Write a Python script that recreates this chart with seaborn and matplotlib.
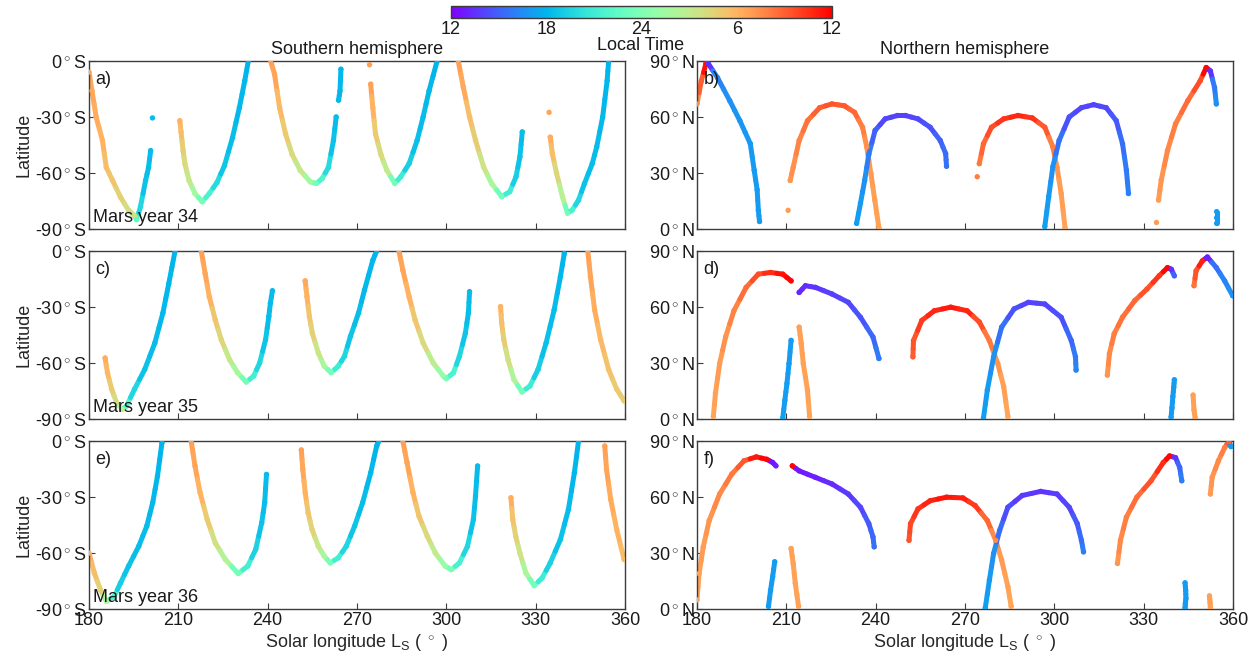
import numpy as np
import pandas as pd
import matplotlib
matplotlib.use("Agg")
import matplotlib.pyplot as plt
from matplotlib.collections import LineCollection
import seaborn as sns

sns.set_theme(style="white")
plt.rcParams["font.family"] = ["Liberation Sans", "DejaVu Sans"]
plt.rcParams["mathtext.fontset"] = "custom"
plt.rcParams["mathtext.rm"] = "Liberation Sans"
plt.rcParams["mathtext.it"] = "Liberation Sans:italic"
plt.rcParams["mathtext.bf"] = "Liberation Sans:bold"

# ---------------------------------------------------------------------------
# Occultation tracks: solar longitude (deg), latitude (deg), local time (h).
# Each inner list is one continuous track of observations.
# ---------------------------------------------------------------------------

# (a) Southern hemisphere, Mars year 34
ls_a = [
    [180, 181, 182.4, 184.5, 185.8, 187.9, 190.6, 193.3, 195.3, 196, 197.3, 199, 200, 200.7],
    [201.3],
    [210.5, 210.9, 211.6, 212.2, 213.6, 215.6, 218, 220.4, 223, 225.5, 228.2, 230.5, 232.3, 233.5],
    [241, 242.3, 244, 246, 248.2, 250.9, 254.3, 256.3, 258.3, 260.4, 262.1, 263],
    [263.8, 264.3, 264.6],
    [274.2],
    [274.6, 275.3, 276.2, 278, 280, 282.7, 284.7, 287.5, 290.2, 292.2, 294.2, 296.9],
    [304, 305.7, 307.8, 309.8, 312.5, 315.2, 318.6, 321.3, 323.4, 324.7, 325.5],
    [334.5],
    [334.9, 335.6, 337, 339, 340.7, 342.3, 344.4, 346.4, 349, 350.5, 352.5, 354, 354.5],
]
lat_a = [
    [-6, -16, -30, -42.5, -57, -64, -73, -80, -83, -85, -78, -64, -57, -48],
    [-30.5],
    [-32, -38, -48, -55, -64, -71, -75.4, -71, -65, -56, -41, -25, -10.6, 0],
    [0, -7, -25, -39, -50, -58.5, -64.7, -65.6, -63, -57, -42.5, -30],
    [-21, -16, -4.4],
    [-2],
    [-12.4, -25, -39, -50, -58.5, -65.6, -62, -55, -42.5, -30, -16, 0],
    [0, -14, -30, -42.5, -56.7, -65.6, -72.7, -70, -62, -51.4, -38],
    [-27.5],
    [-40.8, -49.6, -60, -72.7, -81.6, -79.8, -74.5, -65.6, -55, -46, -30, -10.6, 0],
]
lt_a = [
    [6.6, 6.5, 6.3, 6.0, 5.6, 5.2, 4.6, 4.0, 3.5, 22.5, 19.5, 18.6, 18.4, 18.3],
    [18.3],
    [6.0, 5.6, 4.8, 4.2, 3.2, 1.6, 23.5, 21.5, 19.8, 18.8, 18.4, 18.2, 18.1, 18.0],
    [6.8, 6.6, 5.8, 5.0, 4.2, 3.2, 1.6, 23.5, 21.8, 19.8, 18.6, 18.3],
    [18.2, 18.2, 18.1],
    [6.8],
    [6.7, 6.0, 5.0, 4.2, 3.0, 23.5, 21.0, 19.2, 18.5, 18.3, 18.2, 18.0],
    [6.8, 6.4, 5.6, 4.8, 3.6, 2.0, 23.2, 21.0, 19.2, 18.6, 18.4],
    [6.6],
    [6.2, 5.6, 4.4, 2.6, 23.5, 21.5, 19.5, 18.6, 18.4, 18.3, 18.2, 18.1, 18.0],
]

# (b) Northern hemisphere, Mars year 34
ls_b = [
    [180, 181.4, 183, 183.8, 186.9, 191, 194.4, 197.9, 199.2, 200.2, 200.6, 201],
    [210.6],
    [211.3, 212.3, 214.3, 217.1, 221.2, 225.3, 229.5, 232.9, 235.6, 237, 238.4, 239.7, 241.1],
    [233.6, 234.9, 236.3, 237.7, 239.8, 243.2, 247.3, 250, 254.2, 258.3, 261.7, 263.5, 263.8],
    [274.1],
    [274.8, 276.2, 278.9, 283, 287.8, 292.6, 296.8, 299.5, 300.9, 302.3, 303.6],
    [296.8, 298.1, 299.5, 301.6, 305, 309.1, 313.2, 317.4, 320.8, 322.9, 324.2, 324.9],
    [334.3],
    [335, 335.9, 338, 340.7, 344.8, 349, 351, 352.4, 353.8, 354.4],
    [354.5, 354.5, 354.5],
]
lat_b = [
    [67, 79, 88.6, 88.6, 81, 68.7, 58, 45.7, 31.5, 21, 10, 4],
    [10],
    [26, 33, 47.4, 58, 65, 67, 66, 62.5, 54.5, 44, 29.7, 15.5, 0.5],
    [3, 13.8, 26, 40, 52.8, 59, 60.8, 60.8, 59, 54.5, 47.4, 40.4, 33.6],
    [28],
    [35, 45.7, 54.5, 59, 60.8, 59.5, 54.5, 44, 33, 19, 0.5],
    [1.3, 17.3, 33.3, 47.4, 60, 65, 66.6, 65, 58, 45.7, 31.5, 19],
    [3.5],
    [15.5, 26.2, 42, 56.3, 68.7, 79.4, 86.5, 84.7, 75.8, 67],
    [9.3, 6, 3],
]
lt_b = [
    [7.5, 9.0, 11.5, 13.5, 16.2, 16.6, 16.8, 16.9, 17.0, 17.0, 17.0, 17.0],
    [7.0],
    [7.2, 7.4, 7.8, 8.4, 9.0, 9.4, 9.2, 8.8, 8.0, 7.4, 7.0, 6.8, 6.7],
    [17.2, 17.0, 16.6, 16.0, 15.0, 14.2, 14.0, 14.0, 14.2, 14.6, 15.0, 15.4, 15.6],
    [8.0],
    [8.2, 8.8, 9.6, 10.4, 10.8, 10.4, 9.2, 8.0, 7.2, 6.9, 6.7],
    [17.2, 17.0, 16.6, 15.6, 14.6, 14.2, 14.1, 14.3, 14.8, 15.4, 15.8, 16.0],
    [7.0],
    [7.0, 7.2, 7.6, 8.0, 8.6, 9.6, 11.8, 13.5, 15.8, 16.5],
    [17.0, 17.0, 17.0],
]

# (c) Southern hemisphere, Mars year 35
ls_c = [
    [185.4, 186.2, 187.6, 189.2, 191.2, 192.6, 195.3, 198.7, 202.1, 204.8, 206.8, 208.9],
    [217.7, 219, 220.4, 222.4, 224.4, 227.2, 229.9, 232.8, 235.3, 237.3, 239.3, 240.4, 240.9, 241.6],
    [252.6, 253.2, 254, 255, 257, 259, 261.3, 263.7, 265.8, 267.8, 270.5, 272.5, 275.3, 276.6],
    [284.1, 285.4, 287.5, 289.5, 292.2, 295.6, 299, 300, 302.4, 304.4, 306.4, 307.4, 307.8],
    [318.2, 318.6, 319.3, 320.7, 322.7, 325.4, 328.1, 330.8, 333.5, 336.2, 338.3, 339.6],
    [347.5, 348.4, 349.8, 351.8, 354.5, 357.2, 359.7],
]
lat_c = [
    [-57.3, -65.2, -74, -81, -84.8, -83, -74, -63.5, -49.3, -33.3, -17.4, 0],
    [0, -12, -24.5, -36.9, -47.5, -58.2, -65.2, -70.2, -67, -60, -47.5, -35, -28, -21.3],
    [-16, -24.5, -35, -44, -54.6, -61.7, -65.2, -61.7, -56.4, -45.7, -33.3, -21, -5, 0],
    [0, -10.3, -24.5, -36.9, -49.3, -60, -67, -68.4, -65.2, -56.4, -44, -33.3, -21.8],
    [-29.8, -38.7, -47.5, -58.2, -68.8, -75.5, -72.3, -63.5, -49.3, -31.6, -13.8, -1.4],
    [0, -13.8, -31.6, -47.5, -63.5, -74, -80.3],
]
lt_c = [
    [6.2, 5.8, 5.0, 4.0, 2.5, 22.0, 19.5, 18.6, 18.3, 18.2, 18.1, 18.0],
    [6.8, 6.5, 6.0, 5.2, 4.4, 3.2, 1.8, 23.5, 21.2, 19.6, 18.7, 18.4, 18.3, 18.3],
    [6.4, 6.0, 5.2, 4.6, 3.4, 2.0, 23.6, 21.0, 19.6, 18.7, 18.4, 18.2, 18.1, 18.0],
    [6.8, 6.6, 6.0, 5.2, 4.2, 2.8, 1.0, 23.6, 21.5, 19.6, 18.7, 18.4, 18.3],
    [6.0, 5.5, 4.8, 3.8, 2.2, 23.5, 21.0, 19.2, 18.5, 18.3, 18.1, 18.0],
    [6.8, 6.6, 6.2, 5.8, 5.4, 5.0, 4.8],
]

# (d) Northern hemisphere, Mars year 35
ls_d = [
    [185.5, 186.2, 187.6, 189.6, 192.4, 196.5, 200.6, 204.7, 208.8, 211.6],
    [214.3, 216.4, 219.8, 225.3, 230.8, 234.9, 239.1, 241.1],
    [208.8, 209.5, 210.2, 210.9, 211.6],
    [214.3, 215, 215.7, 217.1, 217.8],
    [252.5, 252.7, 255.5, 259.7, 265.2, 270.7, 274.8, 278.2, 281, 283, 284.4],
    [276.2, 277.5, 279.6, 282.3, 286.5, 291.3, 296.8, 302.3, 305.7, 307.1, 307.3],
    [317.8, 318.5, 320.1, 322.9, 327, 331.1, 335.2, 338, 339.3, 340.3],
    [339.2, 339.5, 339.8, 340.1, 340.3],
    [346.6, 346.9, 347.3],
    [346.9, 347.6, 349.7, 351.4, 354.4, 357.2, 359.9],
]
lat_d = [
    [1.4, 13.8, 29.7, 43.9, 58, 70.5, 77.6, 78.5, 77.6, 74],
    [67.8, 71.4, 70.5, 67, 62.5, 54.5, 43.9, 32.4],
    [0.5, 10, 19, 29.7, 42.1],
    [49.2, 40.4, 29.7, 15.5, 1.4],
    [33.3, 42, 52.8, 58, 59.9, 58, 52, 42, 29.7, 17.3, 1.4],
    [0.5, 15.5, 33.3, 49.2, 59, 62.5, 61.6, 54.5, 42, 33.3, 26.2],
    [23.5, 35, 45.7, 54.5, 63.4, 69.6, 76.7, 81.1, 80.2, 76.7],
    [1, 6, 12, 17, 21],
    [12.8, 4.9, 0.5],
    [71.4, 79.4, 84.7, 86.8, 81.1, 74, 66],
]
lt_d = [
    [6.6, 6.8, 7.0, 7.3, 7.8, 8.6, 9.6, 10.6, 11.4, 11.9],
    [13.2, 13.4, 13.6, 13.9, 14.2, 14.6, 15.2, 15.8],
    [17.2, 17.1, 17.1, 17.0, 17.0],
    [6.8, 6.8, 6.7, 6.7, 6.6],
    [9.0, 9.4, 10.2, 10.8, 11.2, 10.8, 9.6, 8.2, 7.2, 6.8, 6.6],
    [17.2, 17.0, 16.6, 15.6, 14.6, 14.1, 14.1, 14.5, 15.2, 15.8, 16.2],
    [7.2, 7.6, 8.0, 8.4, 8.8, 9.4, 10.4, 11.8, 13.5, 15.0],
    [17.0, 17.0, 17.0, 17.0, 17.0],
    [6.8, 6.8, 6.8],
    [8.4, 9.4, 11.0, 13.0, 15.5, 16.2, 16.6],
]

# (e) Southern hemisphere, Mars year 36
ls_e = [
    [180, 181.8, 183.8, 185.8, 188.5, 190.6, 193.3, 196.7, 199.4, 201.4, 203, 204.5],
    [214.3, 215.6, 217.3, 219.7, 222.4, 225.8, 230.1, 233.3, 236, 238, 239, 239.6],
    [251.3, 251.8, 252.6, 253.6, 254.9, 257, 259, 261, 263.7, 266.4, 269.2, 271.9, 274.6, 276.6, 277.3],
    [285.4, 286.8, 288.8, 290.8, 293.6, 296.3, 299.6, 301.7, 304.4, 307.1, 309.1, 309.8, 310.5],
    [321.7, 322.3, 323.3, 324.7, 326.7, 329.5, 332.2, 334.9, 338.3, 341, 343, 344.4],
    [353.2, 353.8, 355.2, 357.2, 359.7],
]
lat_e = [
    [-60, -70.7, -79.6, -85.9, -83.2, -76, -67, -56.4, -45.6, -33, -18.8, -0.9],
    [0, -13.4, -27.7, -42, -54.6, -63.5, -71, -67, -58, -43.8, -33, -17.9],
    [-4.8, -15.2, -27.7, -38.5, -47.4, -56.4, -61.7, -65.3, -62.6, -56.4, -45.6, -33, -17, -2.7, 0],
    [0, -11.6, -27.7, -40.2, -51, -60, -67, -68.9, -65.3, -56.4, -42, -29.5, -13.4],
    [-30.4, -42, -51, -60, -70.7, -77.5, -73.3, -65.3, -52.8, -36.7, -17, 0],
    [-2.7, -15.2, -31.3, -47.4, -63.5],
]
lt_e = [
    [6.2, 5.6, 4.6, 2.0, 21.5, 19.2, 18.6, 18.4, 18.3, 18.2, 18.1, 18.0],
    [6.8, 6.6, 6.0, 5.0, 3.8, 2.4, 23.5, 21.2, 19.4, 18.6, 18.4, 18.3],
    [6.8, 6.5, 6.0, 5.2, 4.5, 3.4, 2.0, 23.6, 21.2, 19.6, 18.7, 18.4, 18.2, 18.0, 18.0],
    [6.8, 6.6, 6.0, 5.2, 4.2, 3.0, 1.2, 23.6, 21.4, 19.6, 18.6, 18.4, 18.3],
    [6.2, 5.4, 4.6, 3.6, 2.0, 23.5, 21.0, 19.4, 18.6, 18.3, 18.1, 18.0],
    [6.8, 6.6, 6.3, 6.0, 5.7],
]

# (f) Northern hemisphere, Mars year 36
ls_f = [
    [180, 180.7, 182.1, 184.1, 187.6, 191.7, 195.8, 199.9, 203.4, 205.4, 206.5],
    [212, 214.3, 219.8, 225.3, 230.8, 234.9, 237.7, 239.1, 239.5],
    [204, 204.7, 205.4, 206.1],
    [211.6, 212.3, 213, 214.1],
    [251.2, 251.7, 254.2, 258.3, 263.8, 269.3, 273.4, 277.5, 280.3, 282.3, 284.4, 285.5],
    [276.8, 278.2, 279.6, 281.6, 284.4, 289.2, 295.4, 300.9, 305, 307.7, 309.1, 309.8],
    [321.2, 322.2, 324.2, 327.7, 332.5, 336.6, 338.7, 340.7, 342.1, 342.8],
    [343.9, 344.1, 344.2, 344.0, 343.9],
    [352.1, 352.3, 352.4],
    [352.4, 353, 355.1, 357.2, 358.6, 359.3],
]
lat_f = [
    [4.9, 19, 33.3, 47.4, 61.6, 72.3, 79.4, 81.5, 80.2, 78.5, 76.7],
    [76.7, 74, 70.5, 67, 61.6, 54.5, 45.7, 38.6, 33.3],
    [1.4, 10, 17.3, 25.3],
    [32.4, 24.4, 13.8, 1.4],
    [36.8, 45.7, 53.6, 58, 59.9, 59.5, 55.4, 47.4, 36.8, 26.2, 12, 1.4],
    [0.5, 15.5, 29.7, 42, 54.5, 60.8, 63, 61.6, 54.5, 45.7, 36.8, 30.6],
    [24.4, 36.8, 49.2, 59.9, 68.7, 78.5, 82, 81.1, 75.8, 68.7],
    [14, 10, 5.7, 3, 0.5],
    [7, 3.5, 0.5],
    [61.6, 70.5, 79.4, 86.5, 89.6, 87],
]
lt_f = [
    [6.6, 6.8, 7.0, 7.2, 7.6, 8.2, 9.2, 11.2, 11.9, 12.6, 13.0],
    [11.8, 12.8, 13.0, 13.3, 13.7, 14.2, 14.8, 15.2, 15.5],
    [17.0, 17.0, 17.0, 17.0],
    [6.7, 6.7, 6.7, 6.7],
    [9.4, 9.8, 10.4, 10.9, 11.3, 11.0, 10.2, 8.8, 7.6, 7.0, 6.7, 6.6],
    [17.2, 17.0, 16.6, 15.4, 14.4, 13.8, 13.6, 13.8, 14.2, 14.8, 15.4, 16.0],
    [7.2, 7.6, 8.0, 8.6, 9.4, 10.6, 11.8, 13.6, 15.2, 16.0],
    [17.0, 17.0, 17.0, 17.0, 17.0],
    [6.8, 6.8, 6.8],
    [7.0, 7.2, 7.6, 8.0, 9.0, 17.0],
]

panel_letters = ["a)", "b)", "c)", "d)", "e)", "f)"]
mars_years = ["Mars year 34", "Mars year 35", "Mars year 36"]
ls_ticks = [180, 210, 240, 270, 300, 330, 360]
south_ticks = [-90, -60, -30, 0]
south_labels = ["-90$\\,^{\\circ}\\,$S", "-60$\\,^{\\circ}\\,$S", "-30$\\,^{\\circ}\\,$S", "0$\\,^{\\circ}\\,$S"]
north_ticks = [0, 30, 60, 90]
north_labels = ["0$\\,^{\\circ}\\,$N", "30$\\,^{\\circ}\\,$N", "60$\\,^{\\circ}\\,$N", "90$\\,^{\\circ}\\,$N"]
lt_ticks = [12, 18, 24, 30, 36]
lt_tick_labels = ["12", "18", "24", "6", "12"]

# ---------------------------------------------------------------------------
cmap = plt.get_cmap("rainbow")
norm = plt.Normalize(12, 36)
FS = 13
EDGE = "#3c3c3c"


def to_frame(ls_tracks, lat_tracks, lt_tracks):
    rows = []
    for k, (xs, ys, ts) in enumerate(zip(ls_tracks, lat_tracks, lt_tracks)):
        for x, y, t in zip(xs, ys, ts):
            rows.append((k, x, y, t))
    df = pd.DataFrame(rows, columns=["track", "ls", "lat", "lt"])
    # local time on a noon-to-noon axis (12 .. 36 h)
    df["lt_axis"] = np.where(df["lt"] < 12, df["lt"] + 24, df["lt"])
    return df


def draw_tracks(ax, df):
    # each observation colours the stretch of track halfway to its neighbours
    paths, colours = [], []
    for _, g in df.groupby("track", sort=False):
        p = g[["ls", "lat"]].to_numpy(float)
        c = g["lt_axis"].to_numpy(float)
        if len(p) < 2:
            continue
        mids = (p[:-1] + p[1:]) / 2
        for i in range(len(p)):
            a = mids[i - 1] if i > 0 else p[0]
            b = mids[i] if i < len(p) - 1 else p[-1]
            paths.append(np.array([a, p[i], b]))
            colours.append(cmap(norm(c[i])))
    lc = LineCollection(paths, colors=colours, linewidths=3.6,
                        capstyle="round", joinstyle="round", zorder=2)
    ax.add_collection(lc)
    sns.scatterplot(data=df, x="ls", y="lat", hue="lt_axis", palette="rainbow",
                    hue_norm=norm, s=15, linewidth=0, legend=False, ax=ax, zorder=3)


fig = plt.figure(figsize=(12.6, 6.6), dpi=100)
W, H = 1260.0, 660.0
col_x = [89 / W, 697 / W]
ax_w = 536 / W
ax_h = 168 / H
row_y = [1 - 229 / H, 1 - 419 / H, 1 - 609 / H]

panels = [
    (ls_a, lat_a, lt_a), (ls_b, lat_b, lt_b),
    (ls_c, lat_c, lt_c), (ls_d, lat_d, lt_d),
    (ls_e, lat_e, lt_e), (ls_f, lat_f, lt_f),
]

for idx, (ls_tr, lat_tr, lt_tr) in enumerate(panels):
    row, col = divmod(idx, 2)
    ax = fig.add_axes([col_x[col], row_y[row], ax_w, ax_h])
    df = to_frame(ls_tr, lat_tr, lt_tr)
    draw_tracks(ax, df)

    ax.set_xlim(180, 360)
    ax.set_xticks(ls_ticks)
    if col == 0:
        ax.set_ylim(-90, 0)
        ax.set_yticks(south_ticks)
        ax.set_yticklabels(south_labels)
        ax.set_ylabel("Latitude", fontsize=FS, labelpad=2)
        ax.text(0.008, 0.015, mars_years[row], transform=ax.transAxes,
                fontsize=FS, ha="left", va="bottom", color="#1a1a1a", zorder=5)
    else:
        ax.set_ylim(0, 90)
        ax.set_yticks(north_ticks)
        ax.set_yticklabels(north_labels)
        ax.set_ylabel("")
    ax.text(0.012, 0.94, panel_letters[idx], transform=ax.transAxes,
            fontsize=FS, ha="left", va="top", color="#1a1a1a", zorder=5)

    if row == 2:
        ax.set_xticklabels([str(t) for t in ls_ticks])
        ax.set_xlabel("Solar longitude L$_\\mathrm{S}$ ( $^\\circ$ )", fontsize=FS, labelpad=2)
    else:
        ax.set_xticklabels([])
        ax.set_xlabel("")

    ax.tick_params(axis="both", which="both", direction="in", length=4, width=0.8,
                   colors="#1a1a1a", labelsize=FS, pad=2,
                   bottom=True, left=True, top=False, right=False)
    ax.tick_params(axis="both", color=EDGE)
    for sp in ax.spines.values():
        sp.set_color(EDGE)
        sp.set_linewidth(1.0)

    if row == 0:
        ax.set_title("Southern hemisphere" if col == 0 else "Northern hemisphere",
                     fontsize=FS, pad=5, color="#1a1a1a")

# colour bar for local time
cax = fig.add_axes([451 / W, 1 - 18 / H, 381 / W, 12 / H])
sm = plt.cm.ScalarMappable(cmap=cmap, norm=norm)
cb = fig.colorbar(sm, cax=cax, orientation="horizontal")
cb.set_ticks(lt_ticks)
cb.set_ticklabels(lt_tick_labels)
cb.ax.tick_params(direction="in", length=3, width=0.8, color=EDGE,
                  labelsize=FS, pad=2, labelcolor="#1a1a1a")
cb.outline.set_edgecolor(EDGE)
cb.outline.set_linewidth(1.0)
fig.text(641 / W, 1 - 46 / H, "Local Time", ha="center", va="center",
         fontsize=FS, color="#1a1a1a")

fig.savefig("out.png", dpi=100)
